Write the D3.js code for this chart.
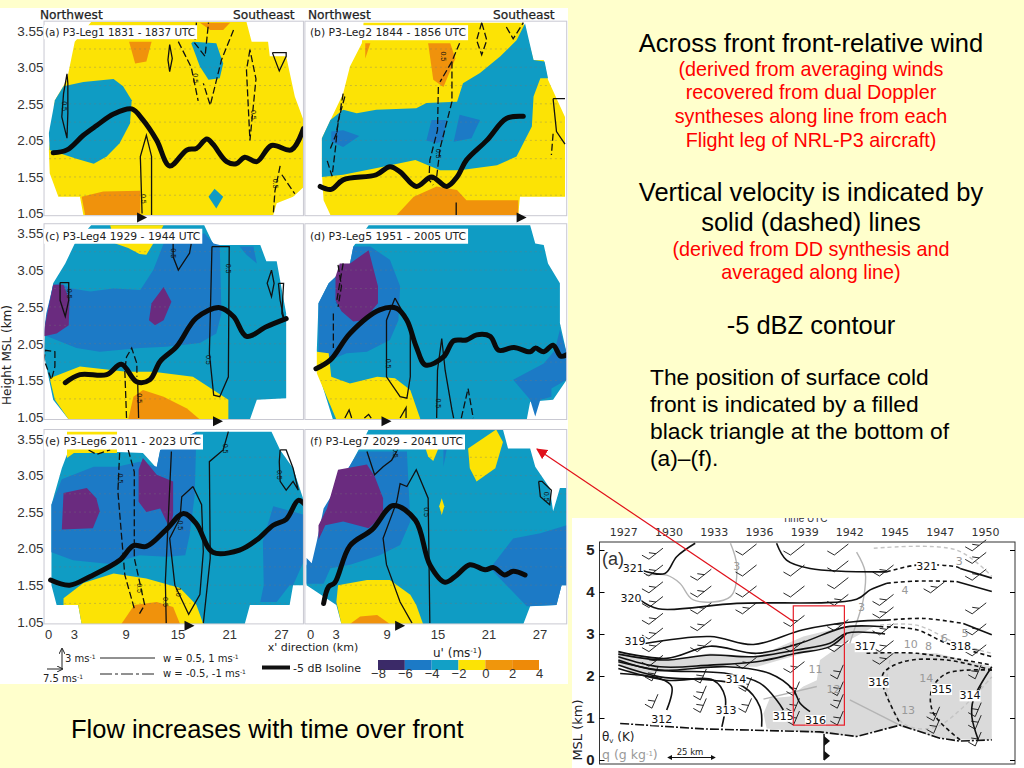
<!DOCTYPE html>
<html>
<head>
<meta charset="utf-8">
<script src="https://d3js.org/d3.v7.min.js"></script>
<style>
  html, body { margin: 0; padding: 0; background: #FFFFCC; overflow: hidden; }
</style>
</head>
<body>
<div id="chart-area"></div>
<script>
// u' bands: each fill is [band value in m/s, [[km, height km], ...]]
const uLevels = [-6, -4, -2, 0, 2];
const uColors = ["#6A2B7F", "#1C7AC6", "#0F9CC4", "#FCE305", "#F0920C"];
const legendLevels = [-8, -6, -4, -2, 0, 2, 4];
const legendColors = ["#3B2A68", "#1C7AC6", "#12A0C6", "#FCE305", "#F0960C", "#EE8A08"];
const xTicks = [0, 3, 9, 15, 21, 27];
const yTicks = [1.05, 1.55, 2.05, 2.55, 3.05, 3.55];
const windRows = [1.3, 1.55, 1.8, 2.05, 2.3, 2.55, 2.8, 3.05, 3.3];

const titles = ["(a) P3-Leg1 1831 - 1837 UTC", "(b) P3-Leg2 1844 - 1856 UTC", "(c) P3-Leg4 1929 - 1944 UTC",
                "(d) P3-Leg5 1951 - 2005 UTC", "(e) P3-Leg6 2011 - 2023 UTC", "(f) P3-Leg7 2029 - 2041 UTC"];
const frontKm = [10.9, 24.9, 19.7, 9, 16.4, 10.6];

const fillsA = [
  [-1, [[3.1,3.4],[5,3.67],[23,3.67],[23.6,3.4],[25.5,3.4],[25.7,3.2],[27.6,3.2],[28.6,2.65],[29.6,2.33],[29.6,1.41],[28.4,1.28],[26.5,1.19],[26.1,1.03],[4.1,1.03],[3.7,1.28],[1.2,1.28],[0.2,1.6],[0.1,1.92],[0.8,2.6],[2.2,2.88]]],
  [-3, [[0.8,2.6],[1.8,2.79],[4.1,2.85],[7.6,2.89],[8.7,2.79],[9.7,2.6],[9.5,2.28],[8.3,2.01],[6.8,1.83],[5.3,1.73],[3.3,1.8],[0.2,1.92],[0.1,2.15]]],
  [-3, [[16.8,3.4],[19.5,3.38],[20.3,3.1],[19.9,2.9],[18.6,2.88],[17.6,3.06],[16.6,3.38]]],
  [-3, [[19.3,1.39],[20.3,1.28],[19.5,1.12],[18.6,1.28]]],
  [1, [[9.4,3.4],[12,3.4],[11.4,3.13],[10.1,3.1]]],
  [1, [[17.6,3.66],[21.1,3.66],[20.3,3.56],[18.8,3.56]]],
  [1, [[3.9,1.28],[6.4,1.35],[10.7,1.36],[10.7,1.03],[4.3,1.03]]]
];
const fillsB = [
  [-1, [[6.3,3.66],[25.1,3.66],[26.3,3.15],[27.5,3.15],[28,2.88],[30,2.37],[30,1.28],[24.7,1.28],[24.5,1.03],[2.4,1.03],[1.6,1.23],[1.4,1.6],[1.4,2.08],[2.5,2.35],[3.9,2.69],[4.7,3.06],[6.1,3.38]]],
  [-3, [[1.4,2.08],[2.4,2.33],[3.9,2.47],[5.5,2.42],[7.8,2.47],[12.5,2.49],[13.7,2.56],[17.3,2.58],[18,2.83],[20,2.97],[22.4,3.2],[24.3,3.42],[25.3,3.65],[26.3,3.15],[27.6,3.13],[28,2.9],[27.1,2.9],[26.3,2.65],[26.1,2.24],[24.3,1.83],[22,1.71],[17.6,1.64],[15.3,1.64],[12.4,1.78],[8.6,1.69],[3.9,1.58],[1.4,1.55]]],
  [-5, [[2.5,2.17],[3.9,2.19],[5.8,2.11],[3.9,1.96],[2.5,2.03]]],
  [-5, [[14.3,2.33],[16.1,2.33],[15.7,2.05],[14.9,2.01],[13.7,2.05]]],
  [-5, [[17.6,2.4],[20,2.33],[19,2.08],[16.9,2.03]]],
  [1, [[10.2,1.03],[12.2,1.28],[14.9,1.42],[17.3,1.37],[18.4,1.23],[24.5,1.23],[24.5,1.03]]],
  [1, [[13.9,3.38],[16.5,3.38],[17.1,3.17],[15.7,2.78],[14.5,2.88]]],
  [1, [[6.5,3.38],[7.1,3.38],[6.5,3.17]]]
];
const fillsC = [
  [-3, [[3.1,3.41],[5,3.66],[18.1,3.66],[19.2,3.39],[24.6,3.39],[25.3,3.17],[26.5,3.17],[27.6,2.46],[27.6,1.31],[24.2,1.29],[23.4,1.02],[2.4,1.02],[0.6,1.29],[-0.5,1.92],[-0.3,2.33],[0.6,2.87],[2,3.14]]],
  [-5, [[1.4,2.87],[2.7,2.8],[4.9,2.76],[7.6,2.8],[10.7,2.78],[12.2,3.05],[13.4,3.41],[18.1,3.55],[19.2,3.41],[19.9,3.39],[20.1,2.46],[19.5,2.19],[17.6,2.06],[13.7,2.01],[10.7,1.99],[6,1.94],[3.3,1.99],[-0.5,2.17],[-0.2,2.46],[0.6,2.85]]],
  [-5, [[22.2,3.37],[23.8,3.37],[24.2,3.14],[23,3.26]]],
  [-1, [[7.2,3.66],[13.4,3.66],[12.2,3.41],[11.4,3.26],[10.6,3.27],[9.3,3.35],[7.8,3.41]]],
  [-7, [[-0.3,2.33],[0.6,2.85],[1.8,2.85],[2.5,2.64],[2.4,2.3],[1,2.19],[-0.5,2.15]]],
  [-7, [[13.4,2.82],[14.3,2.62],[13.4,2.37],[12.4,2.3],[11.7,2.37],[12,2.6]]],
  [-1, [[0.2,1.58],[3.7,1.74],[9.1,1.67],[12.2,1.67],[16.8,1.6],[20.9,1.29],[20.9,1.02],[2.4,1.02],[0.8,1.29]]],
  [1, [[9.3,1.02],[9.9,1.33],[11,1.42],[13.4,1.33],[16.1,1.17],[17.6,1.02]]]
];
const fillsD = [
  [-3, [[6.9,3.66],[25.9,3.66],[26.5,3.41],[27.5,3.39],[28,3.14],[29.4,2.87],[29.4,2.33],[30.2,1.92],[30.2,1.56],[28.6,1.29],[25.9,1.26],[25.5,1.02],[2.7,1.02],[1,1.65],[0.8,1.96],[1,2.6],[2.2,2.87],[4.7,3.14],[5.1,3.37]]],
  [-5, [[5.1,3.37],[7.1,3.37],[9.4,3.19],[10.6,2.83],[10.4,2.37],[9.4,2.1],[6.7,1.94],[4.3,1.92],[2.4,1.83],[1,1.94],[1,2.6],[2.2,2.87],[4.7,3.14]]],
  [-5, [[29.4,2.24],[30.2,1.92],[30.2,1.56],[28.4,1.44],[28.4,1.33],[27.1,1.29],[26.5,1.06],[25.9,1.29],[23.9,1.56],[27.5,1.78],[28.8,1.96]]],
  [-7, [[3,2.96],[3.5,3.14],[4.7,3.14],[6.9,3.32],[8,2.83],[8,2.6],[6.3,2.37],[5.1,2.35],[3.7,2.49],[3,2.64]]],
  [-1, [[0.8,1.94],[2.2,1.92],[2.5,1.6],[4.7,1.51],[7.9,1.6],[10,1.58],[11.8,1.42],[13,1.02],[3.1,1.02],[0.8,1.65]]]
];
const fillsE = [
  [-3, [[17.2,3.65],[25.9,3.65],[26.9,3.4],[28.4,3.15],[29.8,2.65],[29.8,1.55],[28.4,1.55],[28,1.28],[23.4,1.28],[22.8,1.02],[3.9,1.02],[3.5,1.28],[1,1.28],[0.4,1.55],[0.4,2.65],[1.6,3.15],[2.4,3.4],[11,3.36],[12.6,3.15],[13,3.4]]],
  [-1, [[2.2,3.29],[2.2,3.65],[8,3.65],[8,3.36],[3,3.36]]],
  [-5, [[0.4,2.65],[1.6,3],[5.3,3.17],[8,3.17],[10.6,3.24],[12.6,3.17],[13,3.4],[17.2,3.65],[17,2.78],[16.4,2.23],[15.9,1.96],[13.7,1.94],[10.6,1.96],[7.2,1.84],[2.9,1.89],[0.4,2]]],
  [-5, [[26.1,2.63],[29.8,2.51],[29.8,1.92],[28.4,1.55],[28,1.55],[26.5,1.32],[24.6,1.32],[25,1.55],[24.9,2.15]]],
  [-7, [[1.8,2.81],[4.5,2.88],[5.6,2.74],[6,2.56],[5.2,2.33],[1.6,2.31]]],
  [-7, [[10.5,3.13],[11,3.29],[12.6,3.06],[14.5,2.97],[14.5,2.51],[14.1,2.33],[13,2.6],[11.4,2.55],[10.5,2.69]]],
  [-1, [[1.8,1.37],[4.1,1.58],[7.6,1.71],[11.4,1.64],[15.3,1.51],[17.2,1.28],[18,1.02],[3.9,1.02],[3.5,1.28],[1.8,1.28]]],
  [1, [[8.5,1.02],[10,1.28],[12.6,1.32],[14.5,1.25],[15.3,1.02]]]
];
const fillsF = [
  [-3, [[6.9,3.68],[22.7,3.68],[23.3,3.42],[25.9,3.42],[26.5,3.17],[28.2,2.88],[28.6,2.56],[29.4,2.88],[30.2,2.88],[30.2,1.55],[29.6,1.55],[29,1.28],[25.9,1.26],[25.1,1.02],[3.7,1.02],[3.1,1.28],[-0.4,1.55],[-0.4,1.83],[0.2,1.83],[1,2.15],[2,2.6],[5.7,3.4]]],
  [-5, [[-0.4,1.92],[0.2,1.85],[0.8,2.15],[1.6,2.6],[5.7,3.38],[11.4,3.38],[11.8,2.42],[10.6,2.1],[8.2,1.96],[4.7,1.83],[2.4,1.78],[1.6,1.57],[-0.4,1.57]]],
  [-5, [[30.2,2.37],[30.2,1.55],[29.6,1.55],[29,1.28],[25.5,1.26],[21.2,1.78],[23.9,2.19],[27.1,2.26]]],
  [-5, [[15.7,3.42],[16.1,3.42],[15.7,3.17]]],
  [-7, [[3.3,3.13],[6.7,3.2],[7.6,3.04],[8.6,2.74],[8.6,2.51],[6.9,2.33],[3.9,2.42],[1.8,2.37],[1,2.17],[1,2.37],[2,2.6]]],
  [-1, [[3.3,1.55],[6.7,1.62],[9.4,1.62],[11.8,1.42],[12.5,1.28],[13.3,1.02],[3.7,1.02],[3.1,1.32]]],
  [1, [[4.7,1.02],[5.9,1.12],[7.9,1.14],[9.4,1.02]]],
  [-1, [[18.6,3.42],[21.9,3.68],[22.7,3.51],[21.8,3.15],[19.6,2.97],[18.8,3.15]]],
  [-1, [[13.6,3.42],[15.1,3.42],[14.5,3.25],[13.9,3.31]]],
  [-1, [[15.5,2.74],[15.8,2.63],[15.5,2.51],[15.2,2.63]]]
];

const isolineA = [[0.6,1.88],[2.2,1.92],[4.1,2.12],[5.6,2.25],[7.6,2.41],[9.7,2.48],[11,2.33],[12.6,2.05],[14.1,1.7],[16.1,1.92],[17.2,1.94],[18.4,2.07],[19.1,2],[20.7,1.76],[21.8,1.73],[22.8,1.82],[24.2,1.76],[25.9,1.98],[28.2,1.92],[29.6,2.21]];
const isolineB = [[1.2,1.42],[2.5,1.38],[3.9,1.51],[7.8,1.58],[9.4,1.69],[10.6,1.62],[12.5,1.42],[14.3,1.55],[16.1,1.42],[17.3,1.55],[18.4,1.78],[20.8,2.05],[23.1,2.35],[25.1,2.38]];
const isolineC = [[2,1.52],[3.7,1.63],[6.8,1.63],[8.5,1.77],[10.3,1.53],[11.8,1.56],[13,1.81],[14.9,2.01],[17.2,2.4],[19.9,2.54],[21.5,2.42],[23,2.15],[25.3,2.28],[27.6,2.39]];
const isolineD = [[0.7,1.71],[2.4,1.83],[4.7,2.19],[8.2,2.51],[10.2,2.53],[11.4,2.37],[12.5,2.01],[13.6,1.76],[15.7,1.87],[16.9,2.09],[18.4,2.1],[19.6,2.17],[21.2,2.15],[22.2,1.96],[24,2],[25.9,1.94],[26.5,1.99],[27.5,1.94],[28.6,2.03],[29.5,1.88],[30.2,1.9]];
const isolineE = [[0.3,1.62],[2.5,1.55],[4.9,1.67],[8.3,1.89],[9.9,2.09],[11.4,2.08],[13.7,2.31],[15.7,2.53],[17.2,2.39],[19.1,2],[22.2,2.03],[24.2,2.17],[26.1,2.37],[27.6,2.45],[29,2.71],[29.8,2.65]];
const isolineF = [[1.6,1.3],[2.2,1.53],[2.9,1.58],[4.7,2.09],[7.3,2.31],[9.8,2.64],[12.4,2.44],[14.1,1.83],[15.9,1.59],[17.3,1.69],[18.8,1.83],[20.6,1.76],[21.6,1.79],[22.9,1.69],[23.9,1.74],[25.3,1.69]];

const solidA = [
  [[2.2,2.96],[1.8,2.69],[1.6,2.37],[2.2,2.08],[2.3,2.42],[2.3,2.83],[2.2,2.96]],
  [[10.9,1.05],[10.7,1.83],[11.4,2.12],[12,1.83],[12,1.03]],
  [[14.1,3.36],[13.9,3.15],[14.1,2.99],[14.4,3.17],[14.1,3.36]],
  [[26,3.25],[27.6,3.25],[27.6,3.2],[26.8,3.0],[26,3.25]]
];
const dashedA = [
  [[15.1,3.4],[16.6,3.05],[17.4,2.59]],
  [[17.2,3.66],[17,3.38],[18.2,3.2],[18.6,3.66]],
  [[21.5,3.56],[20.1,3.15],[18.8,2.53],[18,2.83]],
  [[23.4,3.29],[23,3.01],[23.4,2.05],[24.1,2.89],[23.4,3.29]],
  [[26.9,1.7],[26.3,1.36],[26.1,1.03]],
  [[27.1,1.58],[28.6,1.32]]
];
const solidB = [[[28.6,2.62],[30,2.62]], [[28.6,2.62],[29,2.17],[30,2.0]], [[17.2,1.2],[17.2,1.03]]];
const dashedB = [
  [[3.9,2.69],[3.1,2.14],[2.4,1.94]],
  [[4.1,2.65],[3.3,2.31],[3,1.95],[2.6,1.56],[2,1.78]],
  [[15.1,2.78],[15,2.19],[14.1,1.78],[14,1.51],[14.5,1.44]],
  [[16.7,3.13],[16.7,2.58],[15.3,1.94],[14.9,1.55],[14.3,1.51]],
  [[17.6,3.38],[16.7,3.13],[15.3,2.85]],
  [[20.2,3.66],[19.6,3.42],[20.2,3.22],[20.8,3.42],[20.2,3.66]],
  [[23.1,3.6],[23.9,3.44],[25.1,3.66]],
  [[28.6,2.14],[28.4,1.85]]
];
const solidC = [
  [[19,3.37],[18.7,1.92],[19.2,1.35],[19.9,1.33],[20.9,1.6],[21,3.37],[19,3.37]],
  [[14.5,3.41],[14.5,3.23],[15.1,3.05],[16.4,3.28],[16.6,3.41]],
  [[25.9,3.05],[25.4,2.87],[25.9,2.69],[26.2,2.87],[25.9,3.05]],
  [[26.7,2.87],[27.3,2.87],[27.1,2.46],[27.3,2.39]],
  [[26.7,2.87],[26.9,2.64],[27.3,2.41]],
  [[1.4,2.88],[2.4,2.88],[2.4,2.64],[2,2.42],[1.4,2.64],[1.4,2.88]],
  [[10.5,1.04],[10.4,1.5]]
];
const dashedC = [
  [[-0.5,1.81],[-0.3,1.96],[0.8,1.94],[0.8,1.74],[0.4,1.56],[-0.3,1.78]],
  [[9.1,1.04],[8.9,1.69],[9.1,1.87],[9.7,1.99],[10.3,1.78],[10.3,1.6]]
];
const solidD = [
  [[10,2.67],[9,2.37],[9,1.6],[10.6,1.33],[11.4,1.31],[11.8,1.6],[11.8,2.29],[10,2.67]],
  [[14.9,1.04],[15,1.69],[15.5,2.12],[15.9,1.69],[16.7,1.15],[16.9,1.04]],
  [[4.1,1.04],[4.6,1.15],[4.9,1.04]],
  [[6.4,1.04],[6.9,1.09],[7.2,1.04]],
  [[10.6,1.04],[11.3,1.18],[11.3,1.04]]
];
const dashedD = [
  [[2.75,2.46],[2.75,1.99]],
  [[3.9,3.14],[3.1,2.6]],
  [[3.3,3.12],[3.7,2.83],[3.3,2.55]],
  [[17.8,1.04],[18.6,1.44],[19.2,1.04]]
];
const solidE = [
  [[13.7,1.03],[13.6,1.6],[14.3,3.38]],
  [[16.8,2.9],[15.5,2.76],[15.3,2.47],[14.1,2.19],[14.7,1.55],[16.3,1.15],[17.6,1.42],[18,2.01],[17.8,2.65],[16.8,2.9]],
  [[18,1.03],[18.8,1.92],[18.7,3.24],[20.3,3.4],[20.9,3.65]],
  [[26.9,3.4],[27.6,3.4],[28.4,3.15],[29,2.85],[28.4,2.97],[27.6,2.85],[26.9,2.97],[26.8,3.24],[26.9,3.4]]
];
const dashedE = [
  [[8.3,3.36],[8.1,2.83],[8.9,1.69],[10,1.23]],
  [[9.3,3.4],[10,3.1],[10,1.92],[10.7,1.55],[11.2,1.28],[10.5,1.14]],
  [[4.7,3.4],[5.6,3.34],[7.2,3.4]]
];
const solidF = [
  [[6.7,3.38],[7.6,3.06],[8.6,3.17],[9.6,3.26],[10.2,3.38]],
  [[12,1.03],[10.6,1.32],[9,1.83],[8.6,2.19],[10.2,2.69],[10.6,2.94],[11.4,2.9],[12.5,3.13],[13.9,2.74],[14.1,1.03]],
  [[26.9,2.97],[27.3,2.97],[28.4,2.85],[28.2,2.65],[27.1,2.76],[26.9,2.97]]
];
const dashedF = [];

const contourLabelsA = [["0.5",17,2.9],["0.5",11,1.25],["0.5",23.7,2.4],["0.5",26.3,1.46],["0.5",1.85,2.52]];
const contourLabelsB = [["0.5",15.7,3.2],["0.5",15.1,1.87]];
const contourLabelsC = [["0.5",14.5,3.28],["0.5",20.9,3.07],["0.5",2.4,2.73],["0.5",10.5,1.31],["0.5",18.5,1.83]];
const contourLabelsD = [["0.5",9.2,1.78],["0.5",15,1.24]];
const contourLabelsE = [["0.5",8.4,3.01],["0.5",15.3,2.37],["0.5",10.5,1.51],["1.0",15.1,1.46],["0.5",13.6,1.32],["0.5",20.5,3.42],["0.5",26.8,3.06]];
const contourLabelsF = [["0.5",13.7,2.55],["0.5",27.8,2.76],["0.5",10,3.36]];

// cross section on the lower right: x is position along the time axis (tick index), y is km
const timeLabels = ["1927", "1930", "1933", "1936", "1939", "1942", "1945", "1947", "1950"];
const heightTicks = [0, 1, 2, 3, 4, 5];
const humidGrey = [
  [[3.24,1.47],[3.69,1.51],[3.98,1.75],[4.28,1.9],[4.35,2.38],[4.87,2.78],[5.24,2.78],[5.83,2.54],[6.93,2.54],[8.15,2.22],[8.15,0.48],[7.67,0.48],[6.93,0.52],[6.12,0.83],[5.16,0.56],[4.35,0.63],[3.17,0.75],[3.1,1.11]],
  [[-0.11,2.58],[1.03,2.38],[1.92,2.54],[2.95,2.46],[3.98,2.94],[4.87,3.17],[5.6,3.21],[4.87,2.78],[3.98,2.54],[2.95,2.22],[1.92,2.22],[1.03,2.14],[0.3,1.98],[-0.11,2.3]]
];
const thetaSolid = [
  [[0.41,4.52],[0.92,4.44],[1.18,4.84],[1.59,5.16]],
  [[3.39,5.16],[3.61,4.76],[4.13,4.56],[5.83,4.48]],
  [[7.45,4.56],[8.15,4.33]],
  [[0.37,3.81],[0.77,3.6],[2.51,3.73],[5.16,3.83],[5.46,4.05],[5.83,4.21]],
  [[7.37,4.25],[8.15,4.01]],
  [[0.41,2.76],[1.92,2.94],[2.88,2.75],[3.98,3.1],[5.09,3.29],[5.83,3.33]],
  [[7.52,3.25],[8.15,2.98]],
  [[-0.11,2.58],[0.96,2.42],[1.92,2.71],[2.95,2.54],[3.91,2.78],[4.94,3.17],[5.75,3.17]],
  [[-0.11,2.52],[0.88,2.38],[1.92,2.5],[2.88,2.46],[3.83,2.62],[4.57,2.78],[4.94,3.02],[5.79,3]],
  [[-0.11,2.46],[0.81,2.22],[1.92,2.26],[2.95,2.34],[3.83,2.54],[4.57,2.7],[4.94,3.02]],
  [[-0.11,2.38],[0.74,2.14],[2.29,2.22],[3.24,2.06],[3.76,1.67],[3.91,1.35],[4.13,1.15]],
  [[-0.11,2.34],[0.81,2.14],[2.29,2.06],[3.02,1.83],[3.39,1.43],[3.54,1.19]],
  [[-0.11,2.26],[0.81,1.98],[1.99,1.9],[2.65,1.75],[3.02,1.27],[3.06,0.79]],
  [[-0.11,2.18],[0.96,1.9],[1.99,1.9],[2.25,1.51],[2.18,0.79]],
  [[-0.07,2.06],[0.81,1.94],[1.07,1.75],[0.96,1.19]],
  [[8.15,2.22],[7.74,1.43],[7.71,1.03],[7.85,0.48]]
];
const thetaDashed = [
  [[5.83,4.48],[6.49,4.64],[7.37,4.6],[7.45,4.56]],
  [[5.83,4.21],[6.49,4.26],[7.37,4.25]],
  [[5.83,3.33],[6.64,3.37],[7.52,3.25]],
  [[5.83,3.17],[6.49,3.1],[7.15,2.78],[8.15,2.46]],
  [[5.38,2.54],[6.49,2.54],[8.15,2.26]],
  [[8.15,2.14],[7.15,2.38],[6.19,2.34],[5.75,2.06],[5.75,1.75],[6.12,0.87]],
  [[8.15,2.14],[7.15,2.06],[6.82,1.67],[6.86,1.11],[7.45,0.48]]
];
const surfaceLine = [[-0.07,0.87],[1.77,0.74],[4.35,0.67],[5.16,0.56],[6.12,0.83],[7,0.52],[7.45,0.45],[8.15,0.48]];
const qSolid = [
  [[2.37,5.16],[2.51,4.62],[2.37,3.89],[1.55,3.81],[1.25,4.21],[0.96,4.4],[0.5,4.4]],
  [[5.16,4.95],[5.35,4.48],[5.31,3.83],[5.16,3.27],[5.01,2.78]],
  [[5.01,1.43],[6.19,0.79]],
  [[3.1,1.45],[4.28,1.75]]
];
const qDashed = [
  [[5.68,3.21],[6.49,3.21],[7.37,2.78],[8.15,2.54]],
  [[5.54,5.04],[7.37,5],[8.15,4.37]],
  [[5.9,2.38],[5.83,1.67],[6.19,0.87],[6.93,0.79],[8.15,1.98]]
];
const thetaLabels = [["321",0.22,4.56],["320",0.17,3.86],["319",0.26,2.83],["314",2.49,1.92],["313",2.27,1.18],["312",0.85,0.97],["315",3.54,1.05],["316",4.25,0.95],["317",5.35,2.71],["316",5.65,1.86],["315",7.04,1.69],["314",7.67,1.54],["318",7.46,2.71],["321",6.71,4.62]];
const qLabels = [["3",2.51,4.62],["3",5.27,3.65],["3",7.43,4.75],["4",6.23,4.05],["5",7.56,3.03],["6",7.1,2.9],["8",6.75,2.71],["10",6.36,2.76],["11",4.25,2.17],["12",4.65,1.7],["13",6.3,1.18],["14",6.7,1.96]];
const barbColumns = [0.7, 1.77, 2.77, 3.83, 4.8, 5.8, 6.93, 7.85];
const barbHeights = [
  [4.9, 4.5, 4.1, 3.75, 3.35, 3, 2.7, 2.35, 2.05, 1.4],
  [4.4, 4, 3.6, 3.2, 2.7, 2, 1.6, 1.3],
  [5, 4.5, 4, 3.6, 2.3, 1.8, 1.3],
  [5, 4.5, 4, 3.3, 2.7, 2.2, 1.7, 1.3, 1],
  [5, 4.6, 4.2, 3.8, 3.2, 2.7, 2.1, 1.7, 1.4, 1],
  [4.5, 3.8, 3.5, 3.1, 2.7, 2.4],
  [4.1, 1.1, 0.8],
  [5.1, 4.8, 4.4, 3.6, 3.1, 2.6, 2.1, 1.6, 1.2, 0.9, 0.5]
];
const surfaceFronts = [0.45, 0.1];

const w = 1024;
const h = 768;

const svg = d3.select("#chart-area")
    .append("svg")
    .attr("width", w)
    .attr("height", h)
    .style("display", "block");

svg.append("rect").attr("width", w).attr("height", h).attr("fill", "#FFFFCC");
svg.append("rect").attr("x", 0).attr("y", 8).attr("width", 568).attr("height", 676).attr("fill", "white");
svg.append("rect").attr("x", 572).attr("y", 518).attr("width", 452).attr("height", 250).attr("fill", "white");

const uColor = d3.scaleThreshold().domain(uLevels).range(uColors);
const sans = "'Liberation Sans', Arial, sans-serif";
const comic = "'DejaVu Sans', sans-serif";

const columns = [d3.scaleLinear().domain([0, 27]).range([48, 281]), d3.scaleLinear().domain([0, 27]).range([310, 539.5])];
const rows = [d3.scaleLinear().domain([1.05, 3.55]).range([213.5, 30.7]),
              d3.scaleLinear().domain([1.05, 3.55]).range([417.3, 233.3]),
              d3.scaleLinear().domain([1.05, 3.55]).range([621.7, 439])];
const frameLeft = [-0.46, -0.6];
const frameRight = [29.6, 30.2];

const drawPanel = (i, fills, isoline, solid, dashed, labels) => {
    const col = i % 2;
    const row = Math.floor(i / 2);
    const x = columns[col];
    const y = rows[row];
    const line = d3.line().x(d => x(d[0])).y(d => y(d[1]));
    const smooth = d3.line().x(d => x(d[0])).y(d => y(d[1])).curve(d3.curveCatmullRom.alpha(0.5));

    const left = x(frameLeft[col]);
    const right = x(frameRight[col]);
    const top = y(3.68);
    const bottom = y(1.02);
    const g = svg.append("g");

    svg.append("clipPath").attr("id", "frame" + i)
        .append("rect").attr("x", left).attr("y", top).attr("width", right - left).attr("height", bottom - top);
    const clip = svg.append("clipPath").attr("id", "shape" + i);
    clip.append("path").attr("d", line(fills[0][1]) + "Z");

    const plot = g.append("g").attr("clip-path", "url(#frame" + i + ")");

    plot.selectAll("path.fill")
        .data(fills)
        .enter()
        .append("path")
        .attr("class", "fill")
        .attr("d", d => line(d[1]) + "Z")
        .attr("fill", d => uColor(d[0]));

    // rows of tiny wind vectors read as faint dashes
    plot.append("g").attr("clip-path", "url(#shape" + i + ")")
        .selectAll("line")
        .data(windRows)
        .enter()
        .append("line")
        .attr("x1", left)
        .attr("x2", right)
        .attr("y1", d => y(d))
        .attr("y2", d => y(d))
        .attr("stroke", "#777")
        .attr("stroke-opacity", 0.45)
        .attr("stroke-width", 0.8)
        .attr("stroke-dasharray", "2 3");

    g.append("rect")
        .attr("x", left).attr("y", top)
        .attr("width", right - left).attr("height", bottom - top)
        .attr("fill", "none").attr("stroke", "#c9c9d2").attr("stroke-width", 1);

    plot.selectAll("path.solid")
        .data(solid)
        .enter()
        .append("path")
        .attr("class", "solid")
        .attr("d", line)
        .attr("fill", "none")
        .attr("stroke", "#111")
        .attr("stroke-width", 1.3);

    plot.selectAll("path.dashed")
        .data(dashed)
        .enter()
        .append("path")
        .attr("class", "dashed")
        .attr("d", line)
        .attr("fill", "none")
        .attr("stroke", "#111")
        .attr("stroke-width", 1.3)
        .attr("stroke-dasharray", "7 3");

    plot.selectAll("text")
        .data(labels)
        .enter()
        .append("text")
        .attr("transform", d => "translate(" + x(d[1]) + "," + y(d[2]) + ") rotate(90)")
        .attr("text-anchor", "middle")
        .attr("dy", 2)
        .attr("font-family", sans)
        .attr("font-size", 7)
        .attr("fill", "#111")
        .text(d => d[0]);

    plot.append("path")
        .attr("d", smooth(isoline))
        .attr("fill", "none")
        .attr("stroke", "#0a0a0a")
        .attr("stroke-width", 5)
        .attr("stroke-linejoin", "round")
        .attr("stroke-linecap", "round");

    // title box hides whatever runs under it
    const title = g.append("text")
        .attr("x", left + (col ? 5 : 1))
        .attr("y", top + (row === 0 ? 15 : 16))
        .attr("font-family", comic)
        .attr("font-size", i === 0 ? 10.4 : 10.8)
        .attr("fill", "#222")
        .text(titles[i]);
    const box = title.node().getBBox();
    g.append("rect")
        .attr("x", box.x - 1).attr("y", box.y - 1)
        .attr("width", box.width + 3).attr("height", box.height + 2)
        .attr("fill", "white");
    title.raise();

    // cold front marker
    const fx = x(frontKm[i]);
    const fy = y(1.05) + 4;
    g.append("path")
        .attr("d", d3.line()([[fx - 5, fy - 5], [fx + 5, fy], [fx - 5, fy + 5]]) + "Z")
        .attr("fill", "#111");

    if (col === 0) {
        const yAxis = d3.axisLeft(y).tickValues(yTicks).tickSize(0).tickFormat(d3.format(".2f"));
        const ga = g.append("g").attr("transform", "translate(" + (left + 0.5) + ",0)").call(yAxis);
        ga.select(".domain").remove();
        ga.selectAll("text").attr("font-family", sans).attr("font-size", 13.5).attr("fill", "#333").attr("dx", 2);
    }
    if (row === 2) {
        const xAxis = d3.axisBottom(x).tickValues(xTicks).tickSize(0).tickFormat(d3.format("d"));
        const ga = g.append("g").attr("transform", "translate(0," + (bottom + 3) + ")").call(xAxis);
        ga.select(".domain").remove();
        ga.selectAll("text").attr("font-family", sans).attr("font-size", 13).attr("fill", "#333");
    }
};

drawPanel(0, fillsA, isolineA, solidA, dashedA, contourLabelsA);
drawPanel(1, fillsB, isolineB, solidB, dashedB, contourLabelsB);
drawPanel(2, fillsC, isolineC, solidC, dashedC, contourLabelsC);
drawPanel(3, fillsD, isolineD, solidD, dashedD, contourLabelsD);
drawPanel(4, fillsE, isolineE, solidE, dashedE, contourLabelsE);
drawPanel(5, fillsF, isolineF, solidF, dashedF, contourLabelsF);

const addText = (parent, x, y, str, size, color, family, anchor) => parent.append("text")
    .attr("x", x)
    .attr("y", y)
    .attr("font-family", family || sans)
    .attr("font-size", size)
    .attr("fill", color || "#000")
    .attr("text-anchor", anchor || "start")
    .text(str);

// heading labels
[[40, "Northwest"], [233, "Southeast"], [308, "Northwest"], [493, "Southeast"]].forEach(d => {
    addText(svg, d[0], 19, d[1], 12.2, "#222", comic).attr("stroke", "#222").attr("stroke-width", 0.25);
});

svg.append("text")
    .attr("transform", "translate(11,355) rotate(-90)")
    .attr("text-anchor", "middle")
    .attr("font-family", comic)
    .attr("font-size", 12)
    .attr("fill", "#222")
    .text("Height MSL (km)");

addText(svg, 313, 651, "x' direction (km)", 11, "#222", comic, "middle");

const uLabel = addText(svg, 433, 657, "u' (ms", 12, "#222", comic);
uLabel.append("tspan").attr("dy", -4).attr("font-size", 7).text("-1");
uLabel.append("tspan").attr("dy", 4).text(")");

// colour bar
const legendX = d3.scaleLinear().domain([-8, 4]).range([378, 539]);
svg.selectAll("rect.bar")
    .data(legendColors)
    .enter()
    .append("rect")
    .attr("class", "bar")
    .attr("x", (d, i) => legendX(legendLevels[i]))
    .attr("y", 660)
    .attr("width", (d, i) => legendX(legendLevels[i + 1]) - legendX(legendLevels[i]))
    .attr("height", 10)
    .attr("fill", d => d);
const legendAxis = svg.append("g")
    .attr("transform", "translate(0,666)")
    .call(d3.axisBottom(legendX).tickValues(legendLevels).tickSize(0).tickFormat(d3.format("d")));
legendAxis.select(".domain").remove();
legendAxis.selectAll("text").attr("font-family", sans).attr("font-size", 13).attr("fill", "#333");

// key at the bottom left
const key = svg.append("g");
const superText = (x, y, str) => {
    const t = addText(key, x, y, str, 10, "#222", comic);
    t.append("tspan").attr("dy", -3).attr("font-size", 6).text("-1");
    return t;
};
key.append("defs").append("marker")
    .attr("id", "small-head").attr("viewBox", "0 0 6 6").attr("refX", 5).attr("refY", 3)
    .attr("markerWidth", 6).attr("markerHeight", 6).attr("orient", "auto")
    .append("path").attr("d", "M0,0L6,3L0,6").attr("fill", "none").attr("stroke", "#222");
key.append("line").attr("x1", 62).attr("y1", 669).attr("x2", 62).attr("y2", 649)
    .attr("stroke", "#222").attr("marker-end", "url(#small-head)");
key.append("line").attr("x1", 47).attr("y1", 669).attr("x2", 62).attr("y2", 669)
    .attr("stroke", "#222").attr("marker-end", "url(#small-head)");
superText(65, 662, "3 ms");
superText(43, 682, "7.5 ms");
key.append("line").attr("x1", 100).attr("y1", 658).attr("x2", 155).attr("y2", 658).attr("stroke", "#222");
key.append("line").attr("x1", 100).attr("y1", 674).attr("x2", 156).attr("y2", 674)
    .attr("stroke", "#222").attr("stroke-dasharray", "12 3 3 3");
superText(163, 662, "w = 0.5, 1 ms");
superText(163, 677, "w = -0.5, -1 ms");
key.append("line").attr("x1", 262).attr("y1", 667.5).attr("x2", 290).attr("y2", 667.5)
    .attr("stroke", "#111").attr("stroke-width", 4);
addText(key, 293, 672, "-5 dB Isoline", 11, "#222", comic);

// cross section
const secX = d3.scaleLinear().domain([0, 8]).range([623.3, 985]);
const secY = d3.scaleLinear().domain([0, 5]).range([760, 550]);
const secLine = d3.line().x(d => secX(d[0])).y(d => secY(d[1]));
const secSmooth = d3.line().x(d => secX(d[0])).y(d => secY(d[1])).curve(d3.curveCatmullRom.alpha(0.5));
const sec = svg.append("g");

addText(sec, 805, 522, "Time UTC", 10, "#333", sans, "middle");
svg.append("rect").attr("x", 572).attr("y", 500).attr("width", 452).attr("height", 18).attr("fill", "#FFFFCC");

sec.selectAll("path.grey")
    .data(humidGrey)
    .enter()
    .append("path")
    .attr("class", "grey")
    .attr("d", d => secLine(d) + "Z")
    .attr("fill", "#DADADA");

sec.selectAll("path.q")
    .data(qSolid)
    .enter()
    .append("path")
    .attr("class", "q")
    .attr("d", secSmooth)
    .attr("fill", "none")
    .attr("stroke", "#B4B4B4")
    .attr("stroke-width", 1.4);
sec.selectAll("path.qd")
    .data(qDashed)
    .enter()
    .append("path")
    .attr("class", "qd")
    .attr("d", secSmooth)
    .attr("fill", "none")
    .attr("stroke", "#C4C4C4")
    .attr("stroke-width", 1.4)
    .attr("stroke-dasharray", "4 3");

// wind barbs: staff rising to the right, feathers leaning left
barbColumns.forEach((c, i) => {
    barbHeights[i].forEach(b => {
        const bx = secX(c);
        const by = secY(b);
        const low = b < 2.2;
        const single = i >= 2 && i <= 4 && b >= 3.9;
        const staff = low ? [[bx - 3, by + 7], [bx + 3, by - 7]] : [[bx - 6, by + 5], [bx + 8, by - 6]];
        const barb = sec.append("g").attr("fill", "none").attr("stroke", "#111").attr("stroke-width", 0.9);
        barb.append("path").attr("d", d3.line()(staff));
        barb.append("path").attr("d", d3.line()([staff[0], [staff[0][0] - 7, staff[0][1] - 4]]));
        if (!single) {
            const mx = (staff[0][0] + staff[1][0]) / 2;
            const my = (staff[0][1] + staff[1][1]) / 2;
            barb.append("path").attr("d", d3.line()([[mx, my], [mx - 7, my - 1]]));
        }
    });
});

sec.selectAll("path.theta")
    .data(thetaSolid)
    .enter()
    .append("path")
    .attr("class", "theta")
    .attr("d", secSmooth)
    .attr("fill", "none")
    .attr("stroke", "#111")
    .attr("stroke-width", 1.6);
sec.selectAll("path.thetad")
    .data(thetaDashed)
    .enter()
    .append("path")
    .attr("class", "thetad")
    .attr("d", secSmooth)
    .attr("fill", "none")
    .attr("stroke", "#111")
    .attr("stroke-width", 1.6)
    .attr("stroke-dasharray", "4 3");
sec.append("path")
    .attr("d", secLine(surfaceLine))
    .attr("fill", "none")
    .attr("stroke", "#111")
    .attr("stroke-width", 1.6)
    .attr("stroke-dasharray", "9 2 2 2");

// surface front symbol
sec.append("line")
    .attr("x1", secX(4.44)).attr("x2", secX(4.44))
    .attr("y1", secY(0.62)).attr("y2", secY(0))
    .attr("stroke", "#111").attr("stroke-width", 1.5);
sec.selectAll("path.sf")
    .data(surfaceFronts)
    .enter()
    .append("path")
    .attr("class", "sf")
    .attr("d", d => d3.line()([[secX(4.44), secY(d) - 5], [secX(4.44) + 6, secY(d)], [secX(4.44), secY(d) + 5]]) + "Z")
    .attr("fill", "#111");

const boxedLabels = (data, color, bg) => {
    data.forEach(d => {
        const t = addText(sec, secX(d[1]), secY(d[2]) + 4, d[0], 11, color, comic, "middle");
        if (bg) {
            const b = t.node().getBBox();
            sec.append("rect")
                .attr("x", b.x).attr("y", b.y + 1).attr("width", b.width).attr("height", b.height - 2)
                .attr("fill", "white");
            t.raise();
        }
    });
};
boxedLabels(qLabels, "#999", false);
boxedLabels(thetaLabels, "#111", true);

// frame and axes
sec.append("rect")
    .attr("x", 599.5).attr("y", 542).attr("width", 415.5).attr("height", 222)
    .attr("fill", "none").attr("stroke", "#333").attr("stroke-width", 1);
const timeAxis = d3.axisTop(d3.scalePoint().domain(timeLabels).range(secX.range())).tickSize(0);
const gTime = sec.append("g").attr("transform", "translate(0,539)").call(timeAxis);
gTime.select(".domain").remove();
gTime.selectAll("text").attr("font-family", comic).attr("font-size", 11).attr("fill", "#333");
const gHeight = sec.append("g").attr("transform", "translate(599.5,0)")
    .call(d3.axisRight(secY).tickValues(heightTicks).tickSize(5).tickFormat(""));
gHeight.select(".domain").remove();
const gHeight2 = sec.append("g").attr("transform", "translate(1015,0)")
    .call(d3.axisLeft(secY).tickValues(heightTicks).tickSize(5).tickFormat(""));
gHeight2.select(".domain").remove();
sec.selectAll("text.hl")
    .data(heightTicks)
    .enter()
    .append("text")
    .attr("class", "hl")
    .attr("x", 590.5)
    .attr("y", d => secY(d) + 5)
    .attr("text-anchor", "middle")
    .attr("font-family", sans)
    .attr("font-weight", "bold")
    .attr("font-size", 15)
    .attr("fill", "#222")
    .text(d => d);
sec.append("text")
    .attr("transform", "translate(582,730) rotate(-90)")
    .attr("text-anchor", "middle")
    .attr("font-family", comic)
    .attr("font-size", 13)
    .attr("fill", "#222")
    .text("MSL (km)");
addText(sec, 602, 565, "(a)", 18, "#333", sans);
const thetaText = addText(sec, 602, 741, "θ", 12, "#222", comic);
thetaText.append("tspan").attr("dy", 2).attr("font-size", 7).text("v");
thetaText.append("tspan").attr("dy", -2).text(" (K)");
const qText = addText(sec, 602, 759, "q (g kg", 12.5, "#999", comic);
qText.append("tspan").attr("dy", -3).attr("font-size", 7).text("-1");
qText.append("tspan").attr("dy", 3).text(")");
addText(sec, 690, 755, "25 km", 8.5, "#222", comic, "middle");
sec.append("defs").append("marker")
    .attr("id", "scale-head").attr("viewBox", "0 0 6 6").attr("refX", 5).attr("refY", 3)
    .attr("markerWidth", 5).attr("markerHeight", 5).attr("orient", "auto-start-reverse")
    .append("path").attr("d", "M0,0L6,3L0,6Z").attr("fill", "#111");
sec.append("line").attr("x1", 668).attr("x2", 715).attr("y1", 757.5).attr("y2", 757.5)
    .attr("stroke", "#111").attr("marker-start", "url(#scale-head)").attr("marker-end", "url(#scale-head)");

// red box and arrow
svg.append("rect")
    .attr("x", secX(3.76)).attr("y", secY(3.67))
    .attr("width", secX(4.89) - secX(3.76)).attr("height", secY(0.83) - secY(3.67))
    .attr("fill", "none").attr("stroke", "#E8202A").attr("stroke-width", 1.2);
svg.append("defs").append("marker")
    .attr("id", "red-head").attr("viewBox", "0 0 10 10").attr("refX", 9).attr("refY", 5)
    .attr("markerWidth", 11).attr("markerHeight", 11).attr("markerUnits", "userSpaceOnUse").attr("orient", "auto")
    .append("path").attr("d", "M0,0L10,5L0,10Z").attr("fill", "#E0101A");
svg.append("line")
    .attr("x1", secX(3.76)).attr("y1", secY(3.3)).attr("x2", 537).attr("y2", 449)
    .attr("stroke", "#E0101A").attr("stroke-width", 1.2).attr("marker-end", "url(#red-head)");

// slide text
const notes = svg.append("g");
addText(notes, 811, 52, "Across front front-relative wind", 25.5, "#000", sans, "middle");
addText(notes, 811, 76, "(derived from averaging winds", 19.8, "#FF0000", sans, "middle");
addText(notes, 811, 99, "recovered from dual Doppler", 19.8, "#FF0000", sans, "middle");
addText(notes, 811, 123, "syntheses along line from each", 19.8, "#FF0000", sans, "middle");
addText(notes, 811, 147, "Flight leg of NRL-P3 aircraft)", 19.8, "#FF0000", sans, "middle");
addText(notes, 811, 201, "Vertical velocity is indicated by", 25.5, "#000", sans, "middle");
addText(notes, 811, 231, "solid (dashed) lines", 25.5, "#000", sans, "middle");
addText(notes, 811, 256, "(derived from DD synthesis and", 19.8, "#FF0000", sans, "middle");
addText(notes, 811, 279, "averaged along line)", 19.8, "#FF0000", sans, "middle");
addText(notes, 811, 334, "-5 dBZ contour", 25.5, "#000", sans, "middle");
addText(notes, 650, 385, "The position of surface cold", 22.8, "#000", sans);
addText(notes, 650, 412, "front is indicated by a filled", 22.8, "#000", sans);
addText(notes, 650, 439, "black triangle at the bottom of", 22.8, "#000", sans);
addText(notes, 650, 466, "(a)–(f).", 22.8, "#000", sans);
addText(notes, 71, 738, "Flow increases with time over front", 25.5, "#000", sans);
</script>
</body>
</html>
